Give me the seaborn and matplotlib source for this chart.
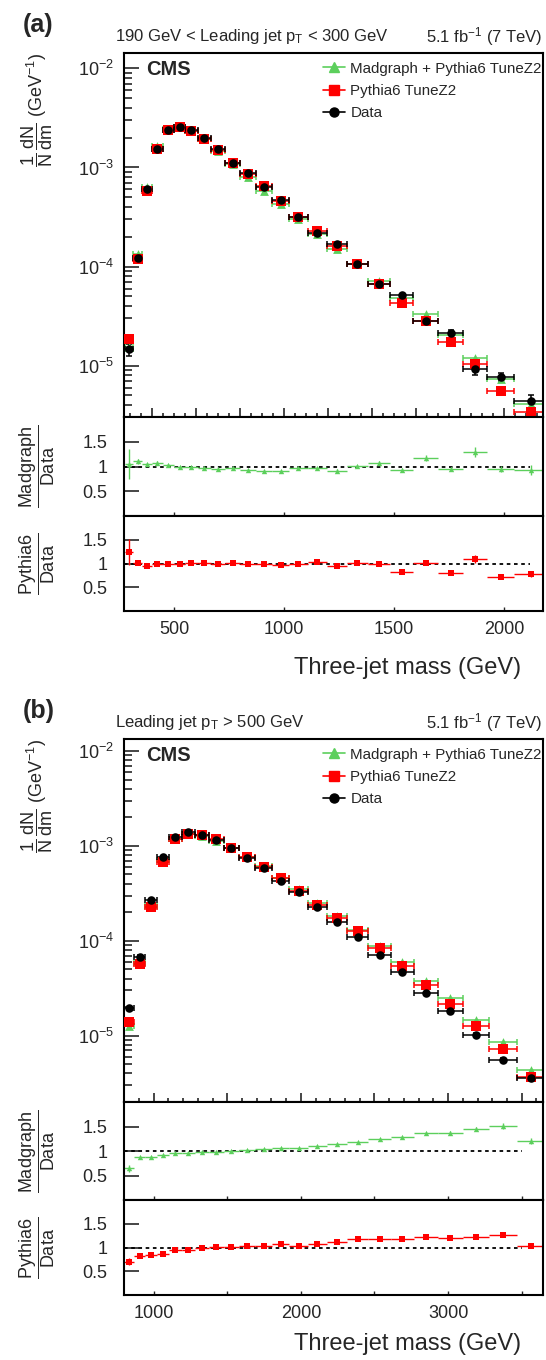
import numpy as np
import pandas as pd
import matplotlib
matplotlib.use('Agg')
import matplotlib.pyplot as plt
import seaborn as sns
from matplotlib.ticker import (FixedLocator, MultipleLocator, NullFormatter,
                               FuncFormatter, LogLocator)
from matplotlib.lines import Line2D

GREEN = '#5ccf5c'
RED = '#ff0000'

# ---- panel (a): 190 < leading jet pT < 300 GeV ----
edges_a = [275, 314, 356, 400, 448, 499, 551, 607, 668, 732, 800, 873, 947, 1024,
           1107, 1195, 1285, 1381, 1482, 1588, 1700, 1815, 1925, 2045, 2200]
data_a = [1.46e-5, 1.22e-4, 6.0e-4, 1.53e-3, 2.38e-3, 2.58e-3, 2.38e-3, 2.0e-3,
          1.53e-3, 1.12e-3, 8.7e-4, 6.4e-4, 4.75e-4, 3.18e-4, 2.2e-4, 1.67e-4,
          1.06e-4, 6.7e-5, 5.17e-5, 2.8e-5, 2.15e-5, 9.2e-6, 7.7e-6, 4.4e-6]
data_relerr_a = [0.14, 0.03, 0.02, 0.01, 0.01, 0.01, 0.01, 0.01, 0.01, 0.01, 0.01, 0.01,
                 0.01, 0.01, 0.015, 0.02, 0.02, 0.03, 0.03, 0.05, 0.06, 0.12, 0.1, 0.15]
pythia_a = [1.85e-5, 1.2e-4, 5.8e-4, 1.53e-3, 2.38e-3, 2.55e-3, 2.35e-3, 1.95e-3,
            1.5e-3, 1.12e-3, 8.6e-4, 6.5e-4, 4.6e-4, 3.15e-4, 2.27e-4, 1.6e-4,
            1.05e-4, 6.6e-5, 4.3e-5, 2.8e-5, 1.73e-5, 1.05e-5, 5.6e-6, 3.4e-6]
madgraph_a = [1.53e-5, 1.35e-4, 6.3e-4, 1.65e-3, 2.45e-3, 2.55e-3, 2.33e-3, 1.94e-3,
              1.45e-3, 1.08e-3, 8.1e-4, 5.8e-4, 4.3e-4, 3.05e-4, 2.13e-4, 1.52e-4,
              1.07e-4, 7.2e-5, 4.8e-5, 3.3e-5, 2.05e-5, 1.19e-5, 7.3e-6, 4.1e-6]
ratio_mg_a = [1.05, 1.11, 1.05, 1.08, 1.03, 0.99, 0.98, 0.97, 0.95, 0.96, 0.93, 0.91,
              0.90, 0.96, 0.97, 0.91, 1.01, 1.08, 0.93, 1.17, 0.95, 1.29, 0.95, 0.93]
ratio_mg_err_a = [0.30, 0.05, 0.03, 0.03, 0.02, 0.02, 0.02, 0.02, 0.02, 0.02, 0.02, 0.02,
                  0.02, 0.02, 0.02, 0.03, 0.03, 0.03, 0.04, 0.06, 0.04, 0.10, 0.07, 0.10]
ratio_py_a = [1.24, 1.01, 0.95, 0.99, 0.99, 0.99, 1.01, 1.01, 0.99, 1.01, 0.99, 0.99,
              0.97, 0.99, 1.03, 0.95, 1.01, 0.99, 0.83, 1.01, 0.81, 1.10, 0.72, 0.78]
ratio_py_err_a = [0.27, 0.04, 0.03, 0.02, 0.02, 0.02, 0.02, 0.02, 0.02, 0.02, 0.02, 0.02,
                  0.02, 0.02, 0.03, 0.03, 0.03, 0.03, 0.03, 0.05, 0.04, 0.08, 0.05, 0.07]

# ---- panel (b): leading jet pT > 500 GeV ----
edges_b = [800, 869, 943, 1021, 1103, 1189, 1281, 1377, 1476, 1580, 1689, 1803, 1922,
           2047, 2178, 2315, 2459, 2610, 2768, 2931, 3101, 3278, 3465, 3660]
data_b = [1.94e-5, 6.8e-5, 2.69e-4, 7.7e-4, 1.25e-3, 1.39e-3, 1.30e-3, 1.15e-3, 9.5e-4,
          7.5e-4, 5.9e-4, 4.3e-4, 3.27e-4, 2.29e-4, 1.59e-4, 1.10e-4, 7.1e-5, 4.69e-5,
          2.79e-5, 1.82e-5, 1.02e-5, 5.6e-6, 3.56e-6]
data_relerr_b = [0.04, 0.03, 0.02, 0.01, 0.01, 0.01, 0.01, 0.01, 0.01, 0.01, 0.01, 0.01,
                 0.01, 0.01, 0.015, 0.015, 0.02, 0.02, 0.03, 0.03, 0.04, 0.05, 0.06]
pythia_b = [1.38e-5, 5.7e-5, 2.25e-4, 6.7e-4, 1.18e-3, 1.33e-3, 1.30e-3, 1.17e-3, 9.5e-4,
            7.7e-4, 6.0e-4, 4.6e-4, 3.35e-4, 2.4e-4, 1.75e-4, 1.26e-4, 8.3e-5, 5.4e-5,
            3.45e-5, 2.16e-5, 1.25e-5, 7.2e-6, 3.7e-6]
madgraph_b = [1.26e-5, 5.9e-5, 2.34e-4, 7.1e-4, 1.19e-3, 1.32e-3, 1.27e-3, 1.13e-3, 9.4e-4,
              7.65e-4, 6.1e-4, 4.6e-4, 3.5e-4, 2.52e-4, 1.83e-4, 1.31e-4, 8.8e-5, 6.0e-5,
              3.8e-5, 2.5e-5, 1.48e-5, 8.5e-6, 4.3e-6]
ratio_mg_b = [0.65, 0.87, 0.87, 0.92, 0.95, 0.95, 0.98, 0.98, 0.99, 1.02, 1.04, 1.07,
              1.07, 1.10, 1.15, 1.19, 1.24, 1.28, 1.36, 1.37, 1.45, 1.51, 1.21]
ratio_mg_err_b = [0.07, 0.03, 0.02, 0.02, 0.02, 0.02, 0.02, 0.02, 0.02, 0.02, 0.02, 0.02,
                  0.02, 0.02, 0.02, 0.02, 0.02, 0.02, 0.03, 0.03, 0.04, 0.06, 0.06]
ratio_py_b = [0.70, 0.83, 0.85, 0.87, 0.94, 0.95, 1.00, 1.02, 1.02, 1.04, 1.04, 1.08,
              1.04, 1.08, 1.11, 1.17, 1.17, 1.17, 1.23, 1.19, 1.23, 1.27, 1.04]
ratio_py_err_b = [0.07, 0.03, 0.02, 0.02, 0.02, 0.02, 0.02, 0.02, 0.02, 0.02, 0.02, 0.02,
                  0.02, 0.02, 0.02, 0.02, 0.02, 0.02, 0.03, 0.03, 0.04, 0.05, 0.05]

sns.set_theme(style='ticks')
plt.rcParams['font.family'] = ['Liberation Sans', 'DejaVu Sans']
plt.rcParams['mathtext.fontset'] = 'custom'
plt.rcParams['mathtext.rm'] = 'Liberation Sans'
plt.rcParams['mathtext.it'] = 'Liberation Sans'
plt.rcParams['mathtext.bf'] = 'Liberation Sans:bold'
plt.rcParams['axes.linewidth'] = 1.5
plt.rcParams['axes.edgecolor'] = 'black'

W, H = 546, 1360
fig = plt.figure(figsize=(W / 100, H / 100), dpi=100)


def rect(top, bottom, left=124, right=543):
    return [left / W, 1 - bottom / H, (right - left) / W, (bottom - top) / H]


def bins(edges):
    e = np.array(edges, dtype=float)
    return (e[1:] + e[:-1]) / 2, (e[1:] - e[:-1]) / 2


def main_series(ax, x, xerr, y, yerr, color, marker, size, capsize=2.2):
    ax.errorbar(x, y, xerr=xerr, yerr=yerr, fmt='none', ecolor=color,
                elinewidth=1.1, capsize=capsize, capthick=1.1, zorder=2)
    df = pd.DataFrame({'m': x, 'v': y})
    sns.scatterplot(data=df, x='m', y='v', ax=ax, color=color, marker=marker,
                    s=size, linewidth=0, zorder=3, legend=False)


def ratio_series(ax, x, xerr, r, rerr, color, marker, size):
    ax.errorbar(x, r, xerr=xerr, yerr=rerr, fmt='none', ecolor=color,
                elinewidth=1.0, capsize=0, zorder=2)
    df = pd.DataFrame({'m': x, 'r': r})
    sns.scatterplot(data=df, x='m', y='r', ax=ax, color=color, marker=marker,
                    s=size, linewidth=0, zorder=3, legend=False)


def draw_panel(tops, letter, title, xlim, ylim, edges, data, data_relerr, madgraph,
               pythia, r_mg, r_mg_err, r_py, r_py_err, xmajor, xminor,
               ratio_ticks, ratio_label_every, line_end, xlab_y):
    t_main, b_main, b_mg, b_py = tops
    x, xerr = bins(edges)
    data = np.array(data)

    ax = fig.add_axes(rect(t_main, b_main))
    main_series(ax, x, xerr, np.array(madgraph), None, GREEN, '^', 40)
    main_series(ax, x, xerr, np.array(pythia), None, RED, 's', 42)
    main_series(ax, x, xerr, data, data * np.array(data_relerr), 'black', 'o', 38)
    ax.set_yscale('log')
    ax.set_xlim(*xlim)
    ax.set_ylim(*ylim)
    ax.xaxis.set_major_locator(MultipleLocator(xmajor))
    ax.xaxis.set_minor_locator(MultipleLocator(xminor))
    ax.xaxis.set_major_formatter(NullFormatter())
    ax.yaxis.set_minor_locator(LogLocator(subs=np.arange(2, 10)))
    ax.yaxis.set_minor_formatter(NullFormatter())
    ax.tick_params(axis='y', which='major', direction='in', length=10.5, width=1.2,
                   labelsize=13, pad=7)
    ax.tick_params(axis='y', which='minor', direction='in', length=5.5, width=1.2)
    ax.tick_params(axis='x', which='major', direction='in', length=6.5, width=1.2)
    ax.tick_params(axis='x', which='minor', direction='in', length=3, width=1.2)
    ax.set_xlabel('')
    ax.set_ylabel('')

    ax.text(0.053, 0.955, 'CMS', transform=ax.transAxes, fontsize=14.5,
            fontweight='bold', va='center', ha='left')
    handles = [
        Line2D([], [], color=GREEN, marker='^', ms=6.5, lw=1.2),
        Line2D([], [], color=RED, marker='s', ms=6.5, lw=1.2),
        Line2D([], [], color='black', marker='o', ms=6.5, lw=1.2),
    ]
    ax.legend(handles, ['Madgraph + Pythia6 TuneZ2', 'Pythia6 TuneZ2', 'Data'],
              loc='upper left', bbox_to_anchor=(0.475, 0.976), frameon=False,
              fontsize=10.9, handlelength=1.45, handletextpad=0.35,
              labelspacing=0.55, borderpad=0, borderaxespad=0)

    # ratio panels
    for top, bot, r, rerr, color, marker, size, lab, show_x in [
            (b_main, b_mg, r_mg, r_mg_err, GREEN, '^', 15, 'Madgraph', False),
            (b_mg, b_py, r_py, r_py_err, RED, 's', 20, 'Pythia6', True)]:
        rax = fig.add_axes(rect(top, bot))
        rax.hlines(1.0, xlim[0], line_end, colors='black', linestyles=(0, (2, 2)),
                   linewidth=1.3, zorder=1)
        ratio_series(rax, x, xerr, r, rerr, color, marker, size)
        rax.set_xlim(*xlim)
        rax.set_ylim(0, 2)
        rax.set_yticks([0.5, 1.0, 1.5])
        rax.set_yticklabels(['0.5', '1', '1.5'])
        rax.xaxis.set_major_locator(FixedLocator(ratio_ticks))
        if show_x:
            rax.xaxis.set_major_formatter(FuncFormatter(
                lambda v, p: '%d' % v if v % ratio_label_every == 0 else ''))
        else:
            rax.xaxis.set_major_formatter(NullFormatter())
        rax.tick_params(axis='y', direction='in', length=10.5, width=1.2,
                        labelsize=13, pad=12)
        rax.tick_params(axis='x', direction='in', length=3, width=1.0,
                        labelsize=13, pad=7)
        rax.set_xlabel('')
        rax.set_ylabel('')
        fig.text(37 / W, 1 - (top + bot) / 2 / H,
                 r'$\dfrac{\mathrm{%s}}{\mathrm{Data}}$' % lab, rotation=90,
                 ha='center', va='center', fontsize=13)

    # texts around the panel
    fig.text(23 / W, 1 - (t_main - 28) / H, letter, fontsize=18, fontweight='bold',
             ha='left', va='center')
    fig.text(115 / W, 1 - (t_main - 16) / H, title, fontsize=12, ha='left',
             va='center')
    fig.text(543 / W, 1 - (t_main - 16) / H, r'5.1 fb$^{-1}$ (7 TeV)', fontsize=12,
             ha='right', va='center')
    fig.text(37 / W, 1 - t_main / H,
             r'$\dfrac{1}{N}\,\dfrac{dN}{dm}\ (\mathrm{GeV}^{-1})$', rotation=90,
             ha='center', va='top', fontsize=13)
    fig.text(521 / W, 1 - xlab_y / H, 'Three-jet mass (GeV)', fontsize=17,
             ha='right', va='center')


draw_panel((53, 417, 516, 611), '(a)',
           r'190 GeV < Leading jet p$_{\mathrm{T}}$ < 300 GeV',
           (272, 2178), (3.03e-6, 1.43e-2), edges_a, data_a, data_relerr_a,
           madgraph_a, pythia_a, ratio_mg_a, ratio_mg_err_a, ratio_py_a,
           ratio_py_err_a, 200, 50, [500, 1000, 1500, 2000], 500, 2120, 668)

draw_panel((739, 1102, 1200, 1295), '(b)',
           r'Leading jet p$_{\mathrm{T}}$ > 500 GeV',
           (798, 3645), (2.0e-6, 1.34e-2), edges_b, data_b, data_relerr_b,
           madgraph_b, pythia_b, ratio_mg_b, ratio_mg_err_b, ratio_py_b,
           ratio_py_err_b, 500, 100, [1000, 1500, 2000, 2500, 3000, 3500], 1000, 3500,
           1344)

fig.savefig('out.png', dpi=100)
